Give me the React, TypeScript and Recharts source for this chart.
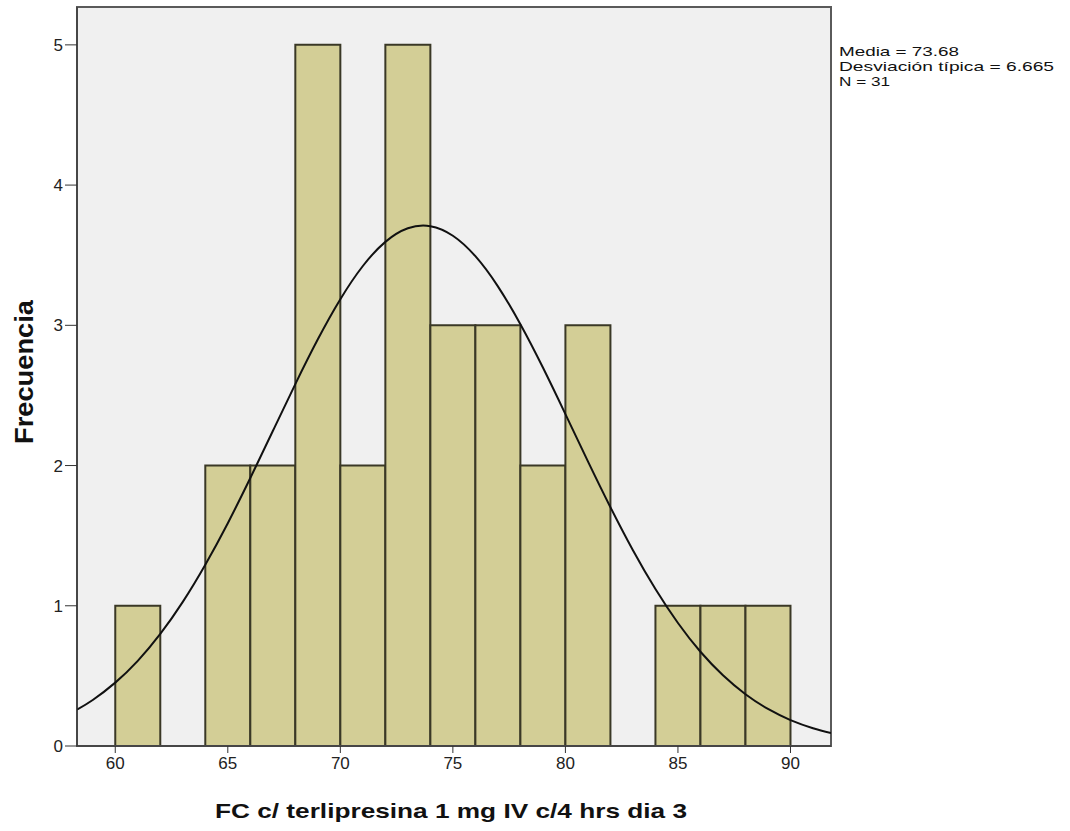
import {CartesianGrid, ComposedChart, Line, ReferenceArea, XAxis, YAxis} from 'recharts';

// histogram bins (start of each 2-unit bin) and counts
const binStarts = [60, 62, 64, 66, 68, 70, 72, 74, 76, 78, 80, 82, 84, 86, 88];
const counts = [1, 0, 2, 2, 5, 2, 5, 3, 3, 2, 3, 0, 1, 1, 1];
const binWidth = 2;

// normal curve
const curveX = [58.3, 59, 60, 61, 62, 63, 64, 65, 66, 67, 68, 69, 70, 71, 72, 73, 74, 75, 76, 77, 78, 79, 80, 81, 82, 83, 84, 85, 86, 87, 88, 89, 90, 91, 91.8];
const curveY = [0.259, 0.328, 0.452, 0.607, 0.799, 1.028, 1.293, 1.589, 1.911, 2.246, 2.581, 2.9, 3.186, 3.423, 3.595, 3.692, 3.707, 3.639, 3.493, 3.278, 3.008, 2.699, 2.367, 2.03, 1.703, 1.396, 1.119, 0.877, 0.672, 0.504, 0.369, 0.264, 0.185, 0.127, 0.092];

const xTicks = [60, 65, 70, 75, 80, 85, 90];
const yTicks = [0, 1, 2, 3, 4, 5];
const xDomain = [58.3, 91.8];
const yDomain = [0, 5.27];

const xTitle = 'FC c/ terlipresina 1 mg IV c/4 hrs dia 3';
const yTitle = 'Frecuencia';
const statsLines = ['Media = 73.68', 'Desviación típica = 6.665', 'N = 31'];
const statsWidths = [120, 215, 51];

const curveData = curveX.map((x, i) => ({x, y: curveY[i]}));

const font = '"Liberation Sans", Arial, sans-serif';

export default function App() {
  return (
    <div style={{position: 'absolute', left: 0, top: 0, width: 1070, height: 831, background: '#fff', fontFamily: font}}>
      <ComposedChart width={1070} height={831} data={curveData} margin={{top: 7, right: 239, bottom: 0, left: 0}}>
        <CartesianGrid fill="#F0F0F0" horizontal={false} vertical={false} />
        <XAxis
          type="number"
          dataKey="x"
          domain={xDomain}
          ticks={xTicks}
          allowDataOverflow
          height={85}
          tickSize={7}
          tickMargin={4}
          stroke="#333"
          tick={{fill: '#222', fontSize: 17, fontFamily: font}}
        />
        <YAxis
          type="number"
          domain={yDomain}
          ticks={yTicks}
          allowDataOverflow
          width={77}
          tickSize={12}
          tickMargin={2}
          stroke="#333"
          tick={{fill: '#222', fontSize: 17, fontFamily: font}}
        />
        {binStarts.map((start, i) =>
          counts[i] > 0 ? (
            <ReferenceArea
              key={start}
              x1={start}
              x2={start + binWidth}
              y1={0}
              y2={counts[i]}
              fill="#D3CE96"
              fillOpacity={1}
              stroke="#3A3826"
              strokeWidth={2}
              ifOverflow="hidden"
            />
          ) : null
        )}
        <Line type="natural" dataKey="y" stroke="#111" strokeWidth={2} dot={false} isAnimationActive={false} />
        <ReferenceArea x1={xDomain[0]} x2={xDomain[1]} y1={yDomain[0]} y2={yDomain[1]} fill="none" stroke="#5A5A5A" strokeWidth={2} />
      </ComposedChart>
      <svg width={1070} height={831} style={{position: 'absolute', left: 0, top: 0, pointerEvents: 'none'}}>
        <text x={451} y={818} textAnchor="middle" fontSize={21} fontWeight="bold" fill="#111" fontFamily={font} textLength={472} lengthAdjust="spacingAndGlyphs">
          {xTitle}
        </text>
        <text x={33} y={372} transform="rotate(-90 33 372)" textAnchor="middle" fontSize={26} fontWeight="bold" fill="#111" fontFamily={font} textLength={144} lengthAdjust="spacingAndGlyphs">
          {yTitle}
        </text>
        {statsLines.map((s, i) => (
          <text key={s} x={839} y={56 + i * 15} fontSize={13.5} fill="#111" fontFamily={font} textLength={statsWidths[i]} lengthAdjust="spacingAndGlyphs">
            {s}
          </text>
        ))}
      </svg>
    </div>
  );
}
